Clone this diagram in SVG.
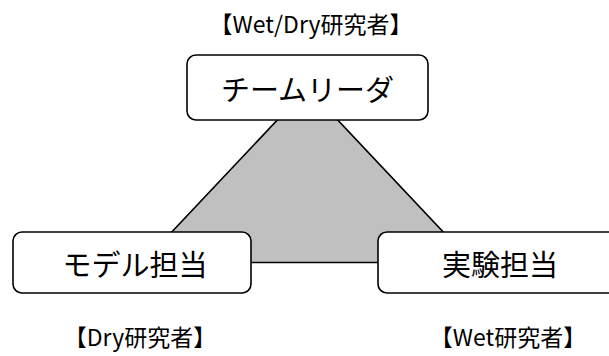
<svg xmlns="http://www.w3.org/2000/svg" width="609" height="356" viewBox="0 0 609 356">
  <style>
    .box { fill: #ffffff; stroke: #000000; stroke-width: 1.6; }
    .tri { fill: #c0c0c0; stroke: #000000; stroke-width: 1.6; }
    .main { font-family: "Noto Sans CJK JP", "Noto Sans", sans-serif; font-size: 29px; fill: #000000; text-anchor: middle; dominant-baseline: central; }
    .role { font-family: "Noto Sans CJK JP", "Noto Sans", sans-serif; font-size: 23px; fill: #000000; text-anchor: middle; dominant-baseline: central; }
  </style>
  <rect width="609" height="356" fill="#ffffff"/>
  <g id="connectors">
    <polygon class="tri" points="307.5,88 143,262.5 472,262.5"/>
  </g>
  <g id="label-wetdry">
    <text class="role" x="311" y="23">【Wet/Dry研究者】</text>
  </g>
  <g id="team-leader">
    <rect class="box" x="187" y="55" width="241" height="65" rx="9" ry="9"/>
    <text class="main" x="307.5" y="87.5">チームリーダ</text>
  </g>
  <g id="model">
    <rect class="box" x="13" y="232" width="238" height="61" rx="9" ry="9"/>
    <text class="main" x="135" y="263">モデル担当</text>
  </g>
  <g id="experiment">
    <rect class="box" x="378" y="232" width="241" height="61" rx="9" ry="9"/>
    <text class="main" x="500" y="263">実験担当</text>
  </g>
  <g id="label-dry">
    <text class="role" x="140" y="336">【Dry研究者】</text>
  </g>
  <g id="label-wet">
    <text class="role" x="508" y="336">【Wet研究者】</text>
  </g>
</svg>
